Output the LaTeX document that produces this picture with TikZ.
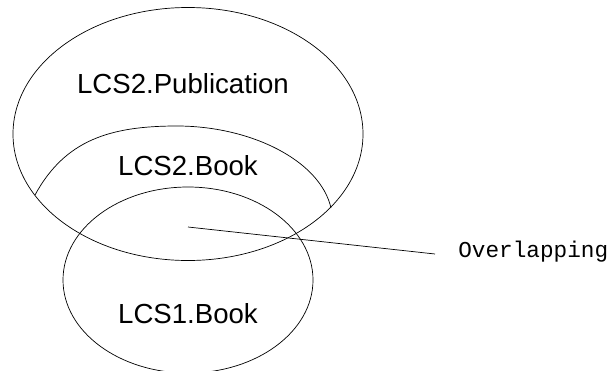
\documentclass[tikz,border=0pt]{standalone}
\usepackage{fontspec}
\setmainfont{Liberation Sans}
\setmonofont{Liberation Mono}
\usetikzlibrary{arrows}

\begin{document}
\begin{tikzpicture}[x=1pt,y=-1pt,line width=0.7pt,
    setname/.style={font=\fontsize{27.6}{30}\selectfont},
    remark/.style={font=\ttfamily\fontsize{22.7}{25}\selectfont,anchor=west,inner sep=0pt}]
\useasboundingbox (0,0) rectangle (610,370);
% the two big sets, drawn as plain ellipses
\draw (188,134) ellipse [x radius=175, y radius=126.5];
\draw (188,280) ellipse [x radius=125, y radius=93];
% the arc that cuts LCS2.Book
% out of LCS2.Publication
\draw (35,195) .. controls (65,140) and (110,126) .. (177,126)
    .. controls (250,126) and (320,160) .. (331,208);
% labels of the sets
\node[setname] (pub) at (183,84) {LCS2.Publication};
\node[setname] (book2) at (188,166) {LCS2.Book};
\node[setname] (book1) at (188,314) {LCS1.Book};
% pointer into the common part
\coordinate (inside) at (188,227);
\coordinate (tip) at (435,254);
\node[remark] (overlap) at (458,252) {Overlapping};
\draw (inside) -- (tip);
\end{tikzpicture}
\end{document}
